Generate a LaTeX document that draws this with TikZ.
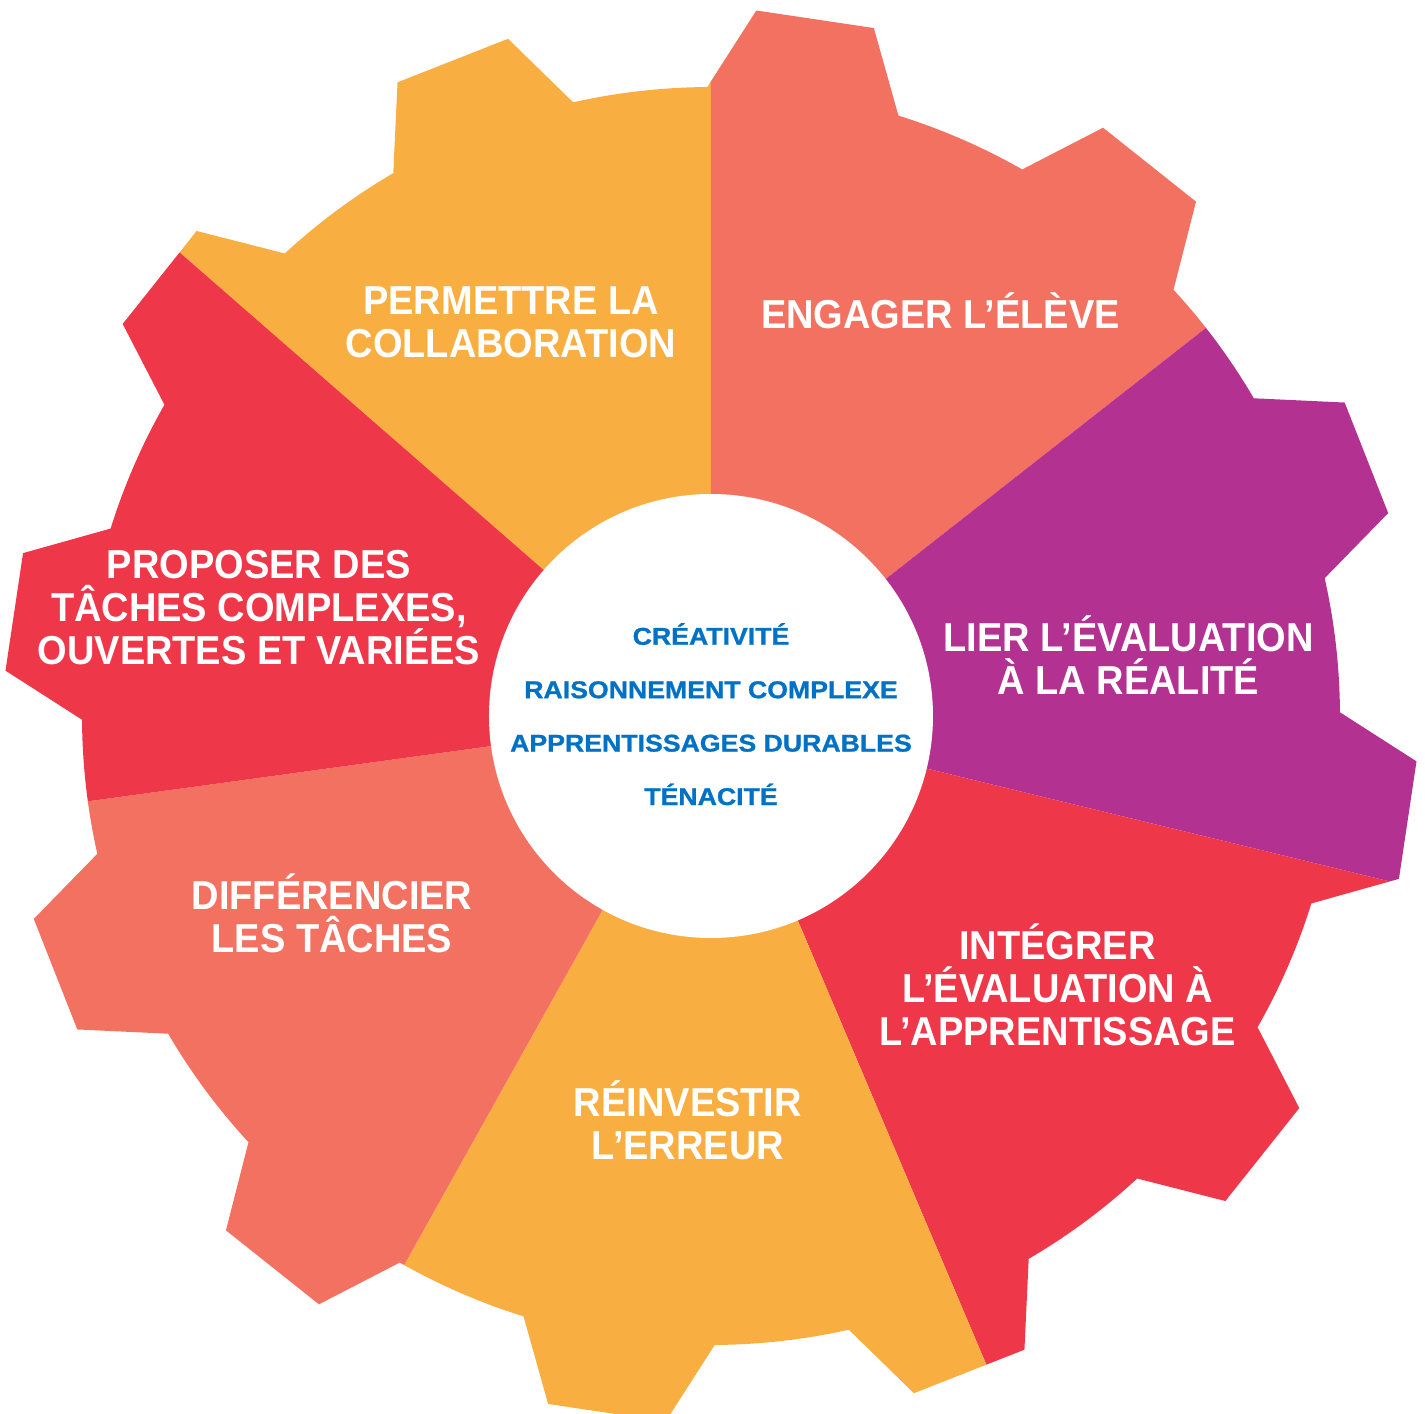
\documentclass[tikz,border=0pt]{standalone}
\usepackage{fontspec}
\usepackage{tikz}
\usetikzlibrary{calc}
\usetikzlibrary{positioning}

\newfontfamily\gearfont[FakeStretch=0.94]{Liberation Sans}
\newfontfamily\corefont[FakeStretch=1.1,BoldFeatures={FakeBold=1}]{Liberation Sans}

\definecolor{gearorange}{HTML}{F9AE41}
\definecolor{gearsalmon}{HTML}{F37161}
\definecolor{gearpurple}{HTML}{B33191}
\definecolor{gearred}{HTML}{EF374A}
\definecolor{coreblue}{HTML}{0072C6}

% 12 teeth, body radius 6.29, tip radius 7.07
\newcommand{\gearoutline}{(90.34:6.29)
  \foreach \t [evaluate=\t as \c using 81.5-30*\t] in {0,...,11}{
    -- ({\c+4.82}:7.07) -- ({\c-4.82}:7.07) -- ({\c-8.84}:6.29)
    arc[start angle={\c-8.84}, end angle={\c-21.16}, radius=6.29]
  } -- cycle}

\begin{document}
\begin{tikzpicture}[
  spoke/.style={text=white,align=center,anchor=base,
    font=\gearfont\bfseries\fontsize{11.5}{12.25}\selectfont},
  core text/.style={text=coreblue,align=center,anchor=base,
    font=\corefont\bfseries\fontsize{6.9}{15.2}\selectfont}]

\useasboundingbox (-7.11,-6.98) rectangle (7.14,7.16);

\foreach \a/\b/\col in {90/138.9/gearorange,38.1/90/gearsalmon,-13.7/38.1/gearpurple,-67/-13.7/gearred,-119.2/-67/gearorange,-172.2/-119.2/gearsalmon,138.9/187.8/gearred}{
  \begin{scope}
    \clip (0,0) -- (\a:8) arc[start angle=\a, end angle=\b, radius=8] -- cycle;
    \fill[\col] \gearoutline;
  \end{scope}
}

\node[circle,fill=white,minimum size=4.44cm,inner sep=0pt] (core) at (0,0) {};
\node[core text] (goals) at (0,-0.89) {CRÉATIVITÉ\\RAISONNEMENT COMPLEXE\\APPRENTISSAGES DURABLES\\TÉNACITÉ};

\node[spoke] (collab) at (-2.00,3.58) {PERMETTRE LA\\COLLABORATION};
\node[spoke] (engage) at (2.295,3.877) {ENGAGER L’ÉLÈVE};
\node[spoke] (reality) at (4.175,0.21) {LIER L’ÉVALUATION\\À LA RÉALITÉ};
\node[spoke] (assess) at (3.465,-3.30) {INTÉGRER\\L’ÉVALUATION À\\L’APPRENTISSAGE};
\node[spoke] (mistake) at (-0.23,-4.44) {RÉINVESTIR\\L’ERREUR};
\node[spoke] (differ) at (-3.79,-2.368) {DIFFÉRENCIER\\LES TÂCHES};
\node[spoke] (tasks) at (-4.52,0.513) {PROPOSER DES\\TÂCHES COMPLEXES,\\OUVERTES ET VARIÉES};
\end{tikzpicture}
\end{document}
